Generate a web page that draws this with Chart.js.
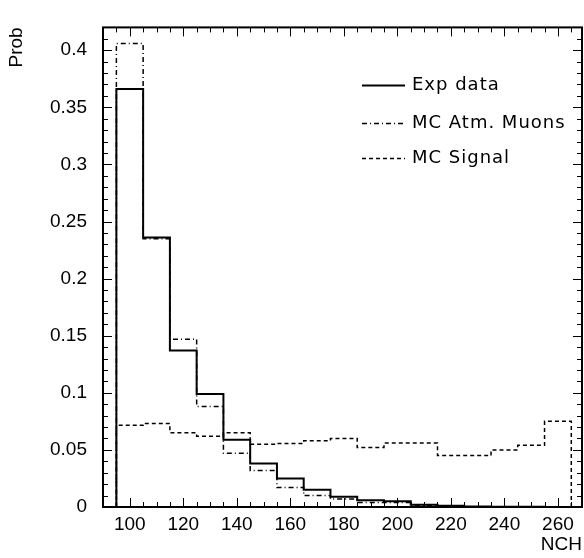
<!DOCTYPE html>
<html>
<head>
<meta charset="utf-8">
<script src="https://cdn.jsdelivr.net/npm/chart.js@4"></script>
<style>
html, body { margin: 0; padding: 0; background: #fff; }
#wrap { width: 584px; height: 558px; }
</style>
</head>
<body>
<div id="wrap"><canvas id="histChart" width="584" height="558"></canvas></div>
<script>
// bins are 10 wide, low edges below
const binLow = [95, 105, 115, 125, 135, 145, 155, 165, 175, 185, 195, 205, 215, 225, 235, 245, 255];
const binWidth = 10;

const expData = [0.366, 0.236, 0.137, 0.099, 0.059, 0.038, 0.025, 0.015, 0.009, 0.006, 0.005, 0.002, 0.001, 0.0005, 0.0003, 0.0002, 0];
const mcMuons = [0.406, 0.235, 0.147, 0.088, 0.047, 0.032, 0.017, 0.010, 0.007, 0.004, 0.004, 0.0015, 0.0008, 0.0003, 0.0002, 0.0001, 0];
const mcSignal = [0.0715, 0.0732, 0.065, 0.062, 0.065, 0.055, 0.0556, 0.058, 0.060, 0.052, 0.056, 0.056, 0.045, 0.045, 0.050, 0.054, 0.075];

const seriesLabels = ['Exp data', 'MC Atm. Muons', 'MC Signal'];
const xTicks = [100, 120, 140, 160, 180, 200, 220, 240, 260];
const yTicks = [0, 0.05, 0.1, 0.15, 0.2, 0.25, 0.3, 0.35, 0.4];

// histogram outline: corners of every bin, closed down to zero at both ends
function toSteps(values) {
    const pts = [{x: binLow[0], y: 0}];
    values.forEach((v, i) => {
        pts.push({x: binLow[i], y: v});
        pts.push({x: binLow[i] + binWidth, y: v});
    });
    pts.push({x: binLow[binLow.length - 1] + binWidth, y: 0});
    return pts;
}

const font = 'Liberation Sans, Arial, sans-serif';

const frameTicks = {
    id: 'frameTicks',
    afterDatasetsDraw(chart) {
        const {ctx, chartArea: a, scales: {x, y}} = chart;
        ctx.save();
        ctx.strokeStyle = '#000';
        ctx.lineWidth = 1;
        ctx.beginPath();
        for (let v = 95; v < x.max; v += 5) {
            const len = v % 20 === 0 ? 9 : 5;
            const px = Math.round(x.getPixelForValue(v)) + 0.5;
            ctx.moveTo(px, a.bottom); ctx.lineTo(px, a.bottom - len);
            ctx.moveTo(px, a.top); ctx.lineTo(px, a.top + len);
        }
        for (let k = 1; k * 0.01 < y.max; k++) {
            const len = k % 5 === 0 ? 9 : 5;
            const py = Math.round(y.getPixelForValue(k * 0.01)) + 0.5;
            ctx.moveTo(a.left, py); ctx.lineTo(a.left + len, py);
            ctx.moveTo(a.right, py); ctx.lineTo(a.right - len, py);
        }
        ctx.stroke();
        ctx.lineWidth = 2;
        ctx.strokeRect(a.left, a.top, a.right - a.left, a.bottom - a.top);
        ctx.restore();
    }
};

const boxLegend = {
    id: 'boxLegend',
    afterDraw(chart) {
        const ctx = chart.ctx;
        const rows = [85, 123, 158];
        ctx.save();
        ctx.font = '18px "DejaVu Sans", sans-serif';
        ctx.letterSpacing = '1px';
        ctx.fillStyle = '#000';
        ctx.textBaseline = 'middle';
        chart.data.datasets.forEach((ds, i) => {
            ctx.strokeStyle = '#000';
            ctx.lineWidth = ds.borderWidth;
            ctx.setLineDash(ds.borderDash || []);
            ctx.beginPath();
            ctx.moveTo(362, rows[i] + 0.5);
            ctx.lineTo(405, rows[i] + 0.5);
            ctx.stroke();
            ctx.fillText(ds.label, 412, rows[i]);
        });
        ctx.restore();
    }
};

const ctx = document.getElementById('histChart').getContext('2d');
new Chart(ctx, {
    type: 'line',
    data: {
        datasets: [{
            label: seriesLabels[0],
            data: toSteps(expData),
            borderColor: '#000',
            borderWidth: 2,
            pointRadius: 0,
            fill: false
        }, {
            label: seriesLabels[1],
            data: toSteps(mcMuons),
            borderColor: '#000',
            borderWidth: 1.5,
            borderDash: [5, 3, 1, 3],
            pointRadius: 0,
            fill: false
        }, {
            label: seriesLabels[2],
            data: toSteps(mcSignal),
            borderColor: '#000',
            borderWidth: 1.5,
            borderDash: [4, 3],
            pointRadius: 0,
            fill: false
        }]
    },
    options: {
        responsive: false,
        animation: false,
        layout: { padding: { top: 4, right: 2, left: 0, bottom: 0 } },
        plugins: {
            legend: { display: false },
            tooltip: { enabled: false }
        },
        scales: {
            x: {
                type: 'linear',
                min: 90,
                max: 269,
                grid: { display: false, drawTicks: false },
                border: { display: false },
                afterBuildTicks: s => { s.ticks = xTicks.map(v => ({value: v})); },
                afterFit: s => { s.height = 51; },
                ticks: {
                    padding: 6,
                    color: '#000',
                    maxRotation: 0,
                    autoSkip: false,
                    font: { family: font, size: 19 }
                },
                title: {
                    display: true,
                    text: 'NCH',
                    align: 'end',
                    color: '#000',
                    padding: { top: 0, bottom: 2 },
                    font: { family: font, size: 19 }
                }
            },
            y: {
                type: 'linear',
                min: 0,
                max: 0.42,
                grid: { display: false, drawTicks: false },
                border: { display: false },
                afterBuildTicks: s => { s.ticks = yTicks.map(v => ({value: v})); },
                afterFit: s => { s.width = 103; },
                ticks: {
                    padding: 16,
                    color: '#000',
                    autoSkip: false,
                    font: { family: font, size: 19 },
                    callback: v => String(v)
                },
                title: {
                    display: true,
                    text: 'Prob',
                    align: 'end',
                    color: '#000',
                    padding: { top: 5, bottom: 4 },
                    font: { family: font, size: 19 }
                }
            }
        }
    },
    plugins: [frameTicks, boxLegend]
});
</script>
</body>
</html>
